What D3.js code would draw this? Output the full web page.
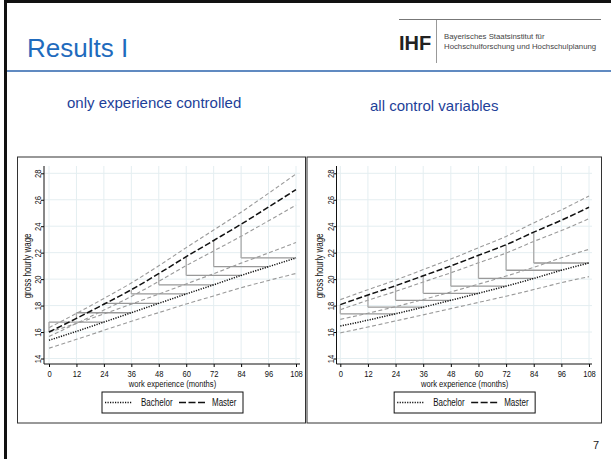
<!DOCTYPE html>
<html lang="de">
<head>
<meta charset="UTF-8">
<title>Results I</title>
<script src="https://d3js.org/d3.v7.min.js"></script>
<style>
  body { margin: 0; background: #fff; }
  svg { display: block; font-family: Arial, "Liberation Sans", sans-serif; }
  .stata text { font-family: "Liberation Sans", Arial, sans-serif; fill: #111; }
</style>
</head>
<body>
<svg width="611" height="459"></svg>
<script>
// months of work experience (x axis ticks too)
const months = [0, 12, 24, 36, 48, 60, 72, 84, 96, 108];
const wageTicks = [14, 16, 18, 20, 22, 24, 26, 28];

// left chart: only experience controlled
const bachelorLeft   = [15.38, 16.05, 16.75, 17.46, 18.17, 18.88, 19.57, 20.28, 20.94, 21.60];
const bachelorLeftHi = [15.98, 16.65, 17.37, 18.11, 18.87, 19.64, 20.41, 21.21, 21.98, 22.77];
const bachelorLeftLo = [14.78, 15.45, 16.13, 16.81, 17.47, 18.12, 18.73, 19.35, 19.90, 20.43];
const masterLeft     = [16.00, 17.03, 18.10, 19.20, 20.42, 21.70, 22.92, 24.15, 25.45, 26.77];
const masterLeftHi   = [16.33, 17.41, 18.54, 19.71, 21.01, 22.38, 23.71, 25.06, 26.49, 27.95];
const masterLeftLo   = [15.67, 16.65, 17.66, 18.69, 19.83, 21.02, 22.13, 23.24, 24.41, 25.59];

// right chart: all control variables
const bachelorRight   = [16.45, 16.90, 17.38, 17.88, 18.40, 18.93, 19.47, 20.05, 20.67, 21.22];
const bachelorRightHi = [16.96, 17.42, 17.92, 18.46, 19.03, 19.62, 20.23, 20.89, 21.61, 22.25];
const bachelorRightLo = [15.94, 16.38, 16.84, 17.30, 17.77, 18.24, 18.71, 19.21, 19.73, 20.19];
const masterRight     = [18.07, 18.80, 19.50, 20.25, 21.00, 21.80, 22.60, 23.55, 24.45, 25.43];
const masterRightHi   = [18.45, 19.20, 19.93, 20.72, 21.52, 22.37, 23.23, 24.25, 25.23, 26.29];
const masterRightLo   = [17.69, 18.40, 19.07, 19.78, 20.48, 21.23, 21.97, 22.85, 23.67, 24.57];

const seriesNames = ["Bachelor", "Master"];
const panelTitles = ["only experience controlled", "all control variables"];

const svg = d3.select("svg");
const narrow = "scale(0.8,1)"; // stata exports with a narrow font

// slide frame
svg.append("rect").attr("x", 4).attr("y", 0).attr("width", 607).attr("height", 3).attr("fill", "#111");
svg.append("rect").attr("x", 4).attr("y", 0).attr("width", 3).attr("height", 459).attr("fill", "#111");
svg.append("line").attr("x1", 7).attr("x2", 611).attr("y1", 71).attr("y2", 71)
  .attr("stroke", "#2b63ad").attr("stroke-width", 1.5);

svg.append("text").attr("x", 27).attr("y", 57).attr("font-size", 26).attr("fill", "#1f6bbd").text("Results I");

// IHF logo
svg.append("line").attr("x1", 399).attr("x2", 601).attr("y1", 19.5).attr("y2", 19.5).attr("stroke", "#777").attr("stroke-width", 1);
svg.append("line").attr("x1", 436.5).attr("x2", 436.5).attr("y1", 20).attr("y2", 63).attr("stroke", "#999").attr("stroke-width", 1);
svg.append("text").attr("x", 399).attr("y", 50).attr("font-size", 20).attr("font-weight", "bold").attr("fill", "#222").text("IHF");
svg.append("text").attr("x", 444).attr("y", 39).attr("font-size", 7.8).attr("fill", "#444").text("Bayerisches Staatsinstitut für");
svg.append("text").attr("x", 444).attr("y", 49).attr("font-size", 7.8).attr("fill", "#444").text("Hochschulforschung und Hochschulplanung");

svg.append("text").attr("x", 593).attr("y", 449).attr("font-size", 11).attr("fill", "#222").text("7");

const panels = [
  { title: panelTitles[0], titleX: 67, titleY: 108, box: [17.5, 157, 288, 266], x0: 49, x1: 296, axisX: 44, axisEnd: 300,
    yTitleX: 31, bachelor: bachelorLeft, bHi: bachelorLeftHi, bLo: bachelorLeftLo,
    master: masterLeft, mHi: masterLeftHi, mLo: masterLeftLo },
  { title: panelTitles[1], titleX: 370, titleY: 111, box: [307, 157, 294.5, 266], x0: 340.3, x1: 589, axisX: 336.5, axisEnd: 592,
    yTitleX: 322.5, bachelor: bachelorRight, bHi: bachelorRightHi, bLo: bachelorRightLo,
    master: masterRight, mHi: masterRightHi, mLo: masterRightLo }
];

const plotTop = 166, plotBottom = 364;

function drawPanel(p) {
  svg.append("text").attr("x", p.titleX).attr("y", p.titleY).attr("font-size", 15)
    .attr("fill", "#1d3f99").text(p.title);

  const g = svg.append("g").attr("class", "stata");
  g.append("rect").attr("x", p.box[0]).attr("y", p.box[1]).attr("width", p.box[2]).attr("height", p.box[3])
    .attr("fill", "#fff").attr("stroke", "#333").attr("stroke-width", 1);

  const x = d3.scaleLinear().domain([0, 108]).range([p.x0, p.x1]);
  const y = d3.scaleLinear().domain([14, 28]).range([358.5, 173.3]);

  // grid
  g.append("g").selectAll("line").data(wageTicks).join("line")
    .attr("x1", p.axisX).attr("x2", p.axisEnd).attr("y1", d => y(d)).attr("y2", d => y(d))
    .attr("stroke", "#e4eef1").attr("stroke-width", 1);
  g.append("g").selectAll("line").data(months).join("line")
    .attr("x1", d => x(d)).attr("x2", d => x(d)).attr("y1", plotTop).attr("y2", plotBottom)
    .attr("stroke", "#e4eef1").attr("stroke-width", 1);

  const line = d3.line().x((d, i) => x(months[i])).y(d => y(d)).curve(d3.curveMonotoneX);

  // confidence bands
  [p.bHi, p.bLo, p.mHi, p.mLo].forEach(arr => {
    g.append("path").attr("d", line(arr)).attr("fill", "none")
      .attr("stroke", "#9a9a9a").attr("stroke-width", 1.1).attr("stroke-dasharray", "4,2.5");
  });

  // master at t vs bachelor at t+24
  const steps = months.filter((t, i) => i + 2 < months.length);
  g.append("g").selectAll("line").data(steps).join("line")
    .attr("x1", d => x(d)).attr("x2", d => x(d + 24))
    .attr("y1", (d, i) => y(p.bachelor[i + 2])).attr("y2", (d, i) => y(p.bachelor[i + 2]))
    .attr("stroke", "#999").attr("stroke-width", 1.3);
  g.append("g").selectAll("line").data(steps).join("line")
    .attr("x1", d => x(d)).attr("x2", d => x(d))
    .attr("y1", (d, i) => y(p.master[i])).attr("y2", (d, i) => y(p.bachelor[i + 2]))
    .attr("stroke", "#aaa").attr("stroke-width", 1.3);

  g.append("path").attr("d", line(p.bachelor)).attr("fill", "none")
    .attr("stroke", "#111").attr("stroke-width", 1.5).attr("stroke-dasharray", "1.2,1.3");
  g.append("path").attr("d", line(p.master)).attr("fill", "none")
    .attr("stroke", "#111").attr("stroke-width", 1.5).attr("stroke-dasharray", "6,2.5");

  // axes
  const yAxis = g.append("g").attr("transform", `translate(${p.axisX},0)`)
    .call(d3.axisLeft(y).tickValues(wageTicks).tickSize(3).tickSizeOuter(0));
  yAxis.select(".domain").remove();
  yAxis.selectAll("text").attr("transform", "rotate(-90) " + narrow).attr("text-anchor", "middle")
    .attr("x", 0).attr("y", -2.8).attr("dy", 0).attr("font-size", 9.5);
  g.append("line").attr("x1", p.axisX).attr("x2", p.axisX).attr("y1", plotTop).attr("y2", plotBottom)
    .attr("stroke", "#111");

  const xAxis = g.append("g").attr("transform", `translate(0,${plotBottom})`)
    .call(d3.axisBottom(x).tickValues(months).tickSize(3).tickSizeOuter(0));
  xAxis.select(".domain").remove();
  xAxis.selectAll("text").attr("transform", narrow).attr("font-size", 9.5);
  g.append("line").attr("x1", p.axisX).attr("x2", p.axisEnd).attr("y1", plotBottom).attr("y2", plotBottom)
    .attr("stroke", "#111");

  const cx = (p.x0 + p.x1) / 2;
  g.append("text").attr("transform", `translate(${cx},387) ${narrow}`).attr("text-anchor", "middle")
    .attr("font-size", 9.5).text("work experience (months)");
  g.append("text").attr("transform", `translate(${p.yTitleX},${y(21)}) rotate(-90) ${narrow}`)
    .attr("text-anchor", "middle").attr("font-size", 10).text("gross hourly wage");

  // legend
  const lw = 141, lx = cx - lw / 2, ly = 392;
  const leg = g.append("g").attr("transform", `translate(${lx},${ly})`);
  leg.append("rect").attr("width", lw).attr("height", 21).attr("fill", "#fff").attr("stroke", "#111");
  leg.append("line").attr("x1", 3).attr("x2", 30).attr("y1", 10.5).attr("y2", 10.5)
    .attr("stroke", "#111").attr("stroke-width", 1.3).attr("stroke-dasharray", "1.2,1.3");
  leg.append("text").attr("transform", `translate(39,14) ${narrow}`).attr("font-size", 10).text(seriesNames[0]);
  leg.append("line").attr("x1", 77).attr("x2", 104).attr("y1", 10.5).attr("y2", 10.5)
    .attr("stroke", "#111").attr("stroke-width", 1.3).attr("stroke-dasharray", "7,2.5");
  leg.append("text").attr("transform", `translate(110,14) ${narrow}`).attr("font-size", 10).text(seriesNames[1]);
}

panels.forEach(drawPanel);
</script>
</body>
</html>
